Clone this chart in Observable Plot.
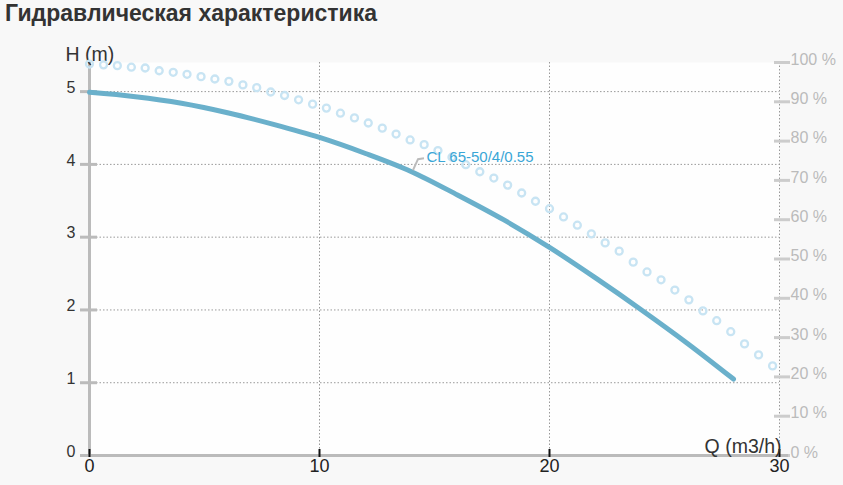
<!DOCTYPE html>
<html>
<head>
<meta charset="utf-8">
<script src="https://cdn.jsdelivr.net/npm/d3@7"></script>
<script src="https://cdn.jsdelivr.net/npm/@observablehq/plot@0.6"></script>
<style>
  html, body { margin: 0; padding: 0; background: #f8f8f8; }
  #wrap { position: relative; width: 843px; height: 485px; background: #f8f8f8; overflow: hidden; }
  #title { position: absolute; left: 5px; top: 0; height: 30px; line-height: 30px;
           font: bold 23px "Liberation Sans", Arial, sans-serif; color: #333; white-space: nowrap; }
  #chart { position: absolute; left: 0; top: 32px; }
</style>
</head>
<body>
<div id="wrap">
  <div id="title">Гидравлическая характеристика</div>
  <div id="chart"></div>
</div>
<script>
// Head curve H(Q)
const headQ = [0, 2, 4, 6, 8, 10, 12, 14, 16, 18, 20, 22, 24, 26, 28];
const headH = [4.99, 4.93, 4.84, 4.71, 4.55, 4.37, 4.15, 3.90, 3.58, 3.24, 2.86, 2.44, 2.00, 1.54, 1.05];

// Efficiency curve (%)
const effQ = [0, 0.61, 1.21, 1.82, 2.42, 3.03, 3.64, 4.24, 4.85, 5.45, 6.06, 6.67, 7.27, 7.88, 8.48,
  9.09, 9.70, 10.30, 10.91, 11.52, 12.12, 12.73, 13.33, 13.94, 14.55, 15.15, 15.76, 16.36, 16.97,
  17.58, 18.18, 18.79, 19.39, 20.00, 20.61, 21.21, 21.82, 22.42, 23.03, 23.64, 24.24, 24.85, 25.45,
  26.06, 26.67, 27.27, 27.88, 28.48, 29.09, 29.70];
const effPct = [99.6, 99.4, 99.2, 98.8, 98.6, 97.9, 97.5, 97.0, 96.4, 95.8, 95.2, 94.3, 93.6, 92.5,
  91.6, 90.5, 89.4, 88.4, 87.1, 85.9, 84.6, 83.3, 81.8, 80.3, 79.1, 77.6, 75.9, 74.0, 72.2, 70.6,
  68.8, 66.8, 64.7, 62.8, 60.7, 58.6, 56.4, 54.1, 52.0, 49.2, 46.7, 44.7, 42.1, 39.6, 36.8, 34.3,
  31.5, 28.4, 25.6, 22.8];

// Ticks
const xTicks = [0, 10, 20, 30];
const hTicks = [0, 1, 2, 3, 4, 5];
const hGrid = [1, 2, 3, 4, 5];
const xGrid = [10, 20, 30];
const pctTicks = [0, 10, 20, 30, 40, 50, 60, 70, 80, 90, 100];

const seriesName = "CL 65-50/4/0.55";
const labelQ = 14;
const xLabel = "Q (m3/h)";
const yLabel = "H (m)";

const H_MAX = 5.4;               // top of left axis
const pctToH = p => p / 100 * H_MAX;

const head = headQ.map((q, i) => ({q, h: headH[i]}));
const eff = effQ.map((q, i) => ({q, h: pctToH(effPct[i])}));
const labelPoint = head.find(d => d.q === labelQ);

const font = "'Liberation Sans', Arial, sans-serif";

const leader = (index, scales) => {
  const x0 = scales.x(labelPoint.q), y0 = scales.y(labelPoint.h);
  const p = document.createElementNS("http://www.w3.org/2000/svg", "path");
  p.setAttribute("d", `M${x0 + 2},${y0 - 1}L${x0 + 7},${y0 - 12}L${x0 + 13},${y0 - 13}`);
  p.setAttribute("fill", "none");
  p.setAttribute("stroke", "#bbb");
  p.setAttribute("stroke-width", "2");
  return p;
};

const chart = Plot.plot({
  width: 843,
  height: 453,
  marginTop: 30,
  marginBottom: 30,
  marginLeft: 89,
  marginRight: 64,
  style: {background: "transparent", fontFamily: font},
  x: {domain: [0, 30]},
  y: {domain: [0, H_MAX]},
  marks: [
    Plot.frame({fill: "#fefefe", stroke: null}),
    Plot.gridY(hGrid, {stroke: "#999", strokeOpacity: 1, strokeDasharray: "1.5,2"}),
    Plot.gridX(xGrid, {stroke: "#999", strokeOpacity: 1, strokeDasharray: "1.5,2"}),
    // left axis
    Plot.ruleX([0], {stroke: "#bbb", strokeWidth: 3}),
    Plot.axisY({ticks: hTicks, tickSize: 17, dx: 8, stroke: "#bbb", strokeWidth: 3, tickFormat: () => "", label: null}),
    Plot.axisY({ticks: hTicks, tickSize: 0, tickPadding: 14, dy: -4, fill: "#333", fontSize: 16, tickFormat: d => String(d), label: null}),
    // right axis (%)
    Plot.axisY({anchor: "right", ticks: pctTicks.map(pctToH), tickSize: 16, dx: -6, stroke: "#ccc", strokeWidth: 3, tickFormat: () => "", label: null}),
    Plot.axisY({anchor: "right", ticks: pctTicks.map(pctToH), tickSize: 0, tickPadding: 11, dy: -3, fill: "#bbb", fontSize: 16,
      tickFormat: d => Math.round(d / H_MAX * 100) + " %", label: null}),
    // bottom axis
    Plot.ruleY([0], {stroke: "#bbb", strokeWidth: 3, insetLeft: -9, insetRight: -9}),
    Plot.axisX({ticks: xTicks, tickSize: 8, dy: -6, stroke: "#111", strokeWidth: 2, tickFormat: () => "", label: null}),
    Plot.axisX({ticks: xTicks, tickSize: 0, tickPadding: 4, fill: "#222", fontSize: 18, tickFormat: d => String(d), label: null}),
    // axis titles
    Plot.text([yLabel], {frameAnchor: "top-left", textAnchor: "start", lineAnchor: "bottom", dx: -24, dy: -2, fontSize: 19.5, fill: "#333"}),
    Plot.text([xLabel], {frameAnchor: "bottom-right", textAnchor: "end", lineAnchor: "bottom", dx: 2, dy: -3, fontSize: 19.5, fill: "#333"}),
    // efficiency curve
    Plot.dot(eff, {x: "q", y: "h", r: 3.5, stroke: "#c8e4f3", strokeWidth: 2.3, fill: "none"}),
    // head curve
    Plot.line(head, {x: "q", y: "h", curve: "monotone-x", stroke: "#6ab0cb", strokeWidth: 5}),
    leader,
    Plot.text([labelPoint], {x: "q", y: "h", text: () => seriesName, textAnchor: "start", dx: 15, dy: -14, fontSize: 15, fill: "#3aa6d6"})
  ]
});
document.getElementById("chart").appendChild(chart);
</script>
</body>
</html>
